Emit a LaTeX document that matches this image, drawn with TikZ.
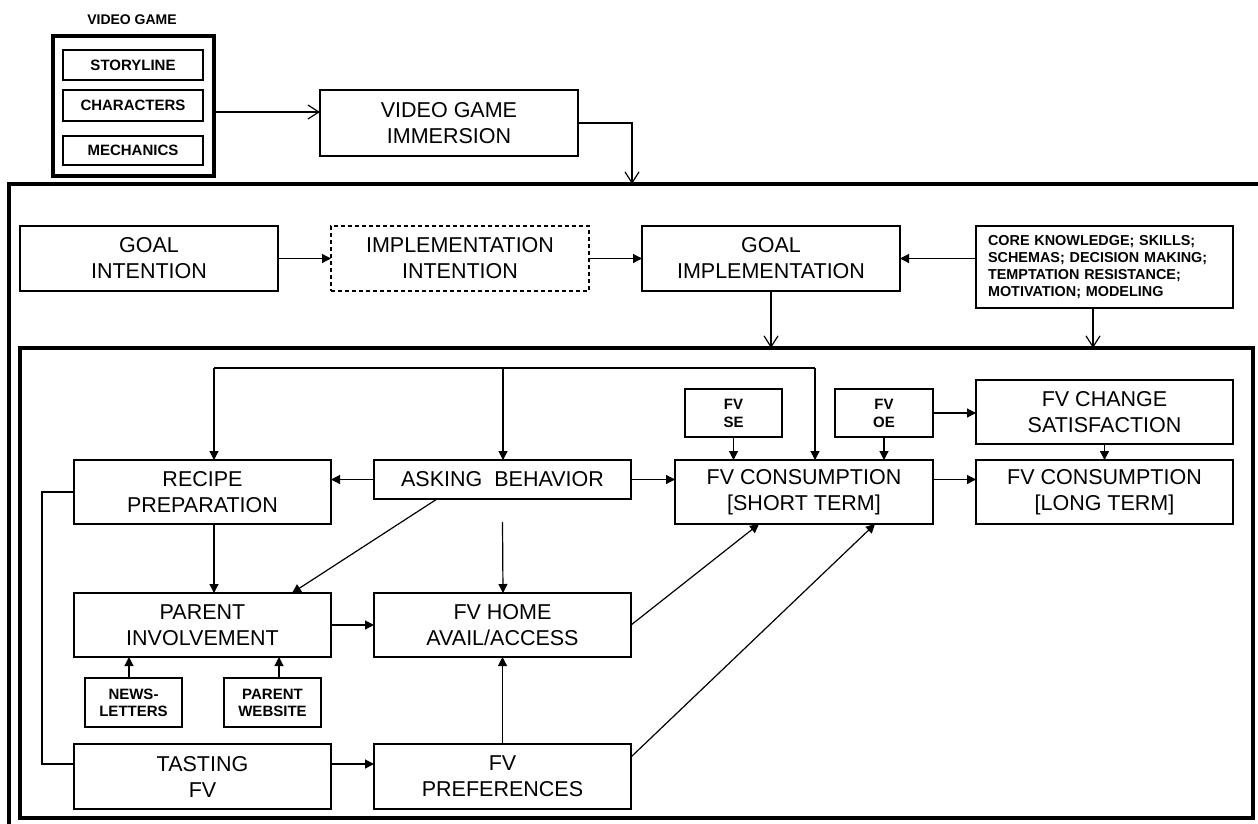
\documentclass[tikz,border=0pt]{standalone}
\usepackage{fontspec}
\setmainfont{Liberation Sans}
\usetikzlibrary{arrows.meta}
\newcommand\bigtxt{\fontsize{21.5}{26}\selectfont}
\newcommand\smtxt{\bfseries\fontsize{15}{17}\selectfont}
\newcommand\titletxt{\bfseries\fontsize{14}{17}\selectfont}
\newcommand\coretxt{\bfseries\fontsize{14.4}{17}\selectfont}
\newcommand\tinytxt{\bfseries\fontsize{15}{18}\selectfont}
\tikzset{
  box/.style={draw, line width=1.3pt, inner sep=0pt, outer sep=0pt, align=center, font=\bigtxt},
  smallbox/.style={box, font=\smtxt},
  frame/.style={draw, line width=3.5pt, inner sep=0pt, outer sep=0pt},
  conn/.style={line width=1.2pt},
  fa/.style={conn, -{Triangle[length=9pt,width=9pt]}},
  oa/.style={conn, -{Straight Barb[length=11pt,width=14pt,line width=1.2pt]}},
}
\begin{document}
\begin{tikzpicture}[x=1pt,y=-1pt]
\fill[white] (0,0) rectangle (1258,823);
\useasboundingbox (0,0) rectangle (1258,823);

% video game block
\node[font=\titletxt] (vgtitle) at (132,20) {VIDEO GAME};
\node[frame, minimum width=161, minimum height=140] (vg) at (133.5,106) {};
\node[smallbox, minimum width=140, minimum height=30] (story) at (133,65) {STORYLINE};
\node[smallbox, minimum width=140, minimum height=31] (chars) at (133,105.5) {CHARACTERS};
\node[smallbox, minimum width=140, minimum height=29] (mech) at (133,150.5) {MECHANICS};
\node[box, minimum width=258, minimum height=66] (immersion) at (449,123) {VIDEO GAME\\IMMERSION};

% outer frame, running off the page on the right and bottom
\begin{scope}
  \clip (0,0) rectangle (1258,823);
  \draw[line width=3.5pt] (9,184) rectangle (1275,840);
\end{scope}
\coordinate (outertop) at (632,184);

% goal row
\node[box, minimum width=258, minimum height=65] (goalint) at (149,258.5) {GOAL\\INTENTION};
\node[box, dashed, dash pattern=on 4pt off 3pt, minimum width=258, minimum height=65] (implint) at (460,258.5) {IMPLEMENTATION\\INTENTION};
\node[box, minimum width=258, minimum height=65] (goalimpl) at (771,258.5) {GOAL\\IMPLEMENTATION};
\node[box, font=\coretxt, minimum width=257, minimum height=82, text width=233, align=left] (core) at (1104.5,267)
  {CORE KNOWLEDGE; SKILLS;\\SCHEMAS; DECISION MAKING;\\TEMPTATION RESISTANCE;\\MOTIVATION; MODELING};

% inner frame
\node[frame, minimum width=1233, minimum height=470] (inner) at (636.5,583) {};

% behaviour boxes
\node[box, minimum width=257, minimum height=64] (recipe) at (202.5,492) {RECIPE\\PREPARATION};
\node[box, minimum width=257, minimum height=39] (asking) at (502.5,479.5) {ASKING~~BEHAVIOR};
\node[box, font=\tinytxt, minimum width=97, minimum height=48] (fvse) at (733.5,413) {FV\\SE};
\node[box, font=\tinytxt, minimum width=98, minimum height=48] (fvoe) at (884,413) {FV\\OE};
\node[box, minimum width=257, minimum height=64] (fvchange) at (1104.5,412) {FV CHANGE\\SATISFACTION};
\node[box, minimum width=258, minimum height=64] (fvshort) at (804,492) {FV CONSUMPTION\\{[SHORT TERM]}};
\node[box, minimum width=257, minimum height=64] (fvlong) at (1104.5,492) {FV CONSUMPTION\\{[LONG TERM]}};
\node[box, minimum width=257, minimum height=64] (parent) at (202.5,625) {PARENT\\INVOLVEMENT};
\node[box, minimum width=257, minimum height=64] (home) at (502.5,625) {FV HOME\\AVAIL/ACCESS};
\node[smallbox, minimum width=97, minimum height=49] (news) at (133.5,702.5) {NEWS-\\LETTERS};
\node[smallbox, minimum width=97, minimum height=49] (pweb) at (272.5,702.5) {PARENT\\WEBSITE};
\node[box, minimum width=257, minimum height=65] (tasting) at (202.5,776.5) {TASTING\\FV};
\node[box, minimum width=257, minimum height=65] (prefs) at (502.5,776.5) {FV\\PREFERENCES};

% top connectors
\coordinate (vgout) at ([yshift=-6pt]vg.east);
\draw[oa] (vgout) -- (vgout -| immersion.west);
\draw[oa] (immersion.east) -| (outertop);
\draw[fa] (goalint.east) -- (implint.west);
\draw[fa] (implint.east) -- (goalimpl.west);
\draw[fa] (core.west |- goalimpl.east) -- (goalimpl.east);
\draw[oa] (goalimpl.south) -- (goalimpl.south |- inner.north);
\coordinate (coreout) at ([xshift=-11.5pt]core.south);
\draw[oa] (coreout) -- (coreout |- inner.north);

% feedback line above the behaviour row
\coordinate (fbL) at (214,368);
\coordinate (fbM) at (503,368);
\coordinate (fbR) at (815,368);
\draw[conn] (fbL) -- (fbR);
\draw[fa] (fbL) -- (fbL |- recipe.north);
\draw[fa] (fbM) -- (fbM |- asking.north);
\draw[fa] (fbR) -- (fbR |- fvshort.north);

% behaviour row
\draw[fa] (asking.west) -- (asking.west -| recipe.east);
\draw[fa] (asking.east) -- (asking.east -| fvshort.west);
\coordinate (shortout) at (fvshort.east |- asking.east);
\draw[fa] (shortout) -- (shortout -| fvlong.west);
\draw[fa] (fvse.south) -- (fvse.south |- fvshort.north);
\draw[fa] (fvoe.south) -- (fvoe.south |- fvshort.north);
\draw[fa] (fvoe.east) -- (fvoe.east -| fvchange.west);
\draw[fa] (fvchange.south) -- (fvlong.north);

% middle rows
\draw[fa] (fbL |- recipe.south) -- (fbL |- parent.north);
\draw[fa] ([xshift=-65.5pt]asking.south) -- ([xshift=89.5pt]parent.north);
\draw[fa] ([yshift=-23pt]asking.south) -- (fbM |- home.north);
\draw[fa] (parent.east) -- (home.west);
\draw[fa] ([xshift=-4.5pt]news.north) -- ([xshift=-4.5pt]news.north |- parent.south);
\draw[fa] ([xshift=6.5pt]pweb.north) -- ([xshift=6.5pt]pweb.north |- parent.south);
\draw[conn] (recipe.west) -- ++(-32,0) |- ([yshift=12.5pt]tasting.west);
\draw[fa] ([yshift=12.5pt]tasting.east) -- ([yshift=12.5pt]prefs.west);
\draw[fa] (prefs.north) -- (home.south);
\draw[fa] (home.east) -- ([xshift=-45pt]fvshort.south);
\draw[fa] ([yshift=19.5pt]prefs.east) -- ([xshift=71pt]fvshort.south);
\end{tikzpicture}
\end{document}
